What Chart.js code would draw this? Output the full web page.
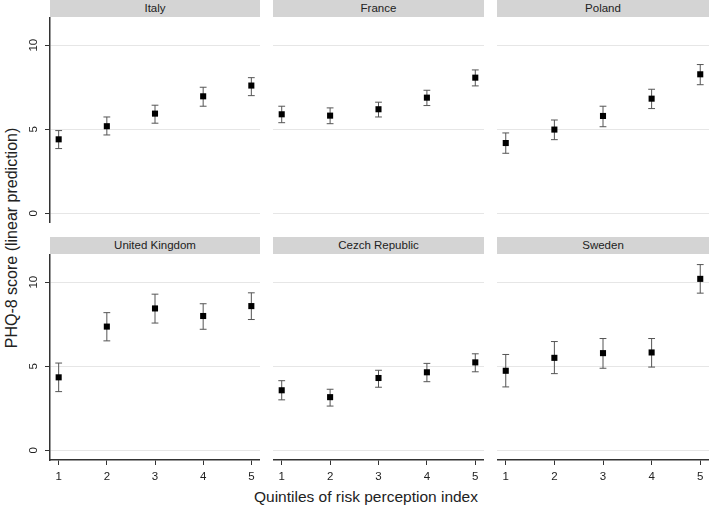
<!DOCTYPE html>
<html>
<head>
<meta charset="utf-8">
<script src="https://cdn.jsdelivr.net/npm/chart.js@4/dist/chart.umd.min.js"></script>
<style>
  body { margin: 0; background: #fff; }
  #wrap { position: relative; width: 709px; height: 507px; font-family: "Liberation Sans", Arial, sans-serif; }
  .panel { position: absolute; }
  .strip { position: absolute; height: 17px; background: #d4d4d4; color: #222; font-size: 11.5px;
           line-height: 17px; text-align: center; }
  .ytitle { position: absolute; left: 12px; top: 238px; transform: translate(-50%, -50%) rotate(-90deg);
            white-space: nowrap; font-size: 16px; color: #222; }
  .xtitle { position: absolute; left: 366px; top: 497px; transform: translate(-50%, -50%);
            white-space: nowrap; font-size: 15.5px; color: #222; }
</style>
</head>
<body>
<div id="wrap">
  <div class="ytitle">PHQ-8 score (linear prediction)</div>
  <div class="xtitle">Quintiles of risk perception index</div>
</div>
<script>
// quintiles 1..5
const quintiles = [1, 2, 3, 4, 5];
const countries = ['Italy', 'France', 'Poland', 'United Kingdom', 'Cezch Republic', 'Sweden'];

// point estimates per country
const italyEst   = [4.40, 5.18, 5.93, 6.96, 7.60];
const franceEst  = [5.89, 5.81, 6.19, 6.88, 8.07];
const polandEst  = [4.18, 4.98, 5.79, 6.82, 8.27];
const ukEst      = [4.34, 7.36, 8.44, 7.99, 8.58];
const czechEst   = [3.57, 3.16, 4.30, 4.64, 5.23];
const swedenEst  = [4.73, 5.50, 5.78, 5.82, 10.20];

// lower / upper bounds of confidence intervals
const italyLo  = [3.85, 4.66, 5.36, 6.37, 7.00];
const italyHi  = [4.92, 5.73, 6.43, 7.50, 8.07];
const franceLo = [5.39, 5.33, 5.73, 6.41, 7.58];
const franceHi = [6.37, 6.27, 6.61, 7.32, 8.53];
const polandLo = [3.57, 4.38, 5.15, 6.23, 7.65];
const polandHi = [4.78, 5.55, 6.37, 7.38, 8.85];
const ukLo     = [3.49, 6.51, 7.57, 7.20, 7.78];
const ukHi     = [5.19, 8.19, 9.29, 8.72, 9.37];
const czechLo  = [3.00, 2.63, 3.75, 4.08, 4.67];
const czechHi  = [4.14, 3.63, 4.76, 5.17, 5.74];
const swedenLo = [3.77, 4.56, 4.88, 4.95, 9.35];
const swedenHi = [5.70, 6.47, 6.65, 6.65, 11.05];

const yTicks = [0, 5, 10];

const series = [
  [italyEst, italyLo, italyHi],
  [franceEst, franceLo, franceHi],
  [polandEst, polandLo, polandHi],
  [ukEst, ukLo, ukHi],
  [czechEst, czechLo, czechHi],
  [swedenEst, swedenLo, swedenHi]
];

const colX = [50, 273, 497];
const colW = [210, 211, 212];
const rowY = [17, 254];
const plotH = 206;
const wrap = document.getElementById('wrap');

function makePanel(i) {
  const col = i % 3, row = Math.floor(i / 3);
  const left = col === 0;
  const bottom = row === 1;
  const yAxisW = left ? 28 : 0;
  const xAxisH = bottom ? 26 : 0;

  const strip = document.createElement('div');
  strip.className = 'strip';
  strip.style.left = colX[col] + 'px';
  strip.style.top = (rowY[row] - 17) + 'px';
  strip.style.width = colW[col] + 'px';
  strip.textContent = countries[i];
  wrap.appendChild(strip);

  const box = document.createElement('div');
  box.className = 'panel';
  box.style.left = (colX[col] - yAxisW) + 'px';
  box.style.top = rowY[row] + 'px';
  box.style.width = (colW[col] + yAxisW) + 'px';
  box.style.height = (plotH + xAxisH) + 'px';
  const cv = document.createElement('canvas');
  box.appendChild(cv);
  wrap.appendChild(box);

  const [est, lo, hi] = series[i];
  const pts = quintiles.map((q, k) => ({x: q, y: est[k]}));
  const caps = [];
  const stems = [];
  quintiles.forEach((q, k) => {
    caps.push({x: q, y: lo[k]}, {x: q, y: hi[k]});
    stems.push({x: q, y: lo[k]}, {x: q, y: hi[k]}, {x: q, y: null});
  });

  new Chart(cv, {
    type: 'scatter',
    data: {
      datasets: [
        { type: 'line', data: stems, borderColor: '#555', borderWidth: 1, pointRadius: 0,
          spanGaps: false, fill: false, order: 3 },
        { data: caps, pointStyle: 'line', pointRadius: 3.4, borderColor: '#555',
          pointBorderWidth: 1, order: 2 },
        { data: pts, pointStyle: 'rect', pointRadius: 4.3, backgroundColor: '#000',
          borderColor: '#000', pointBorderWidth: 0, order: 1 }
      ]
    },
    options: {
      responsive: true,
      maintainAspectRatio: false,
      animation: false,
      layout: { padding: 0, autoPadding: false },
      plugins: { legend: { display: false }, tooltip: { enabled: false } },
      scales: {
        x: {
          type: 'linear', min: 0.82, max: 5.18,
          display: bottom,
          afterBuildTicks: s => { s.ticks = quintiles.map(v => ({value: v})); },
          afterFit: s => { s.height = xAxisH; s.paddingLeft = 0; s.paddingRight = 0; },
          grid: { drawOnChartArea: false, tickLength: 5, tickColor: '#333' },
          border: { display: true, color: '#333', width: 1.5 },
          ticks: { color: '#222', font: { family: 'Liberation Sans', size: 11.5 }, padding: 5,
                   maxRotation: 0 }
        },
        y: {
          min: -0.58, max: 11.68,
          afterBuildTicks: s => { s.ticks = yTicks.map(v => ({value: v})); },
          afterFit: s => { s.width = yAxisW; s.paddingTop = 0; s.paddingBottom = 0; },
          grid: { color: '#e6e6e6', lineWidth: 1, drawTicks: left, tickLength: 5, tickColor: '#333' },
          border: { display: left, color: '#333', width: 1.5 },
          ticks: { display: left, color: '#222', font: { family: 'Liberation Sans', size: 11.5 },
                   minRotation: 90, maxRotation: 90, crossAlign: 'center', padding: 5 }
        }
      }
    }
  });
}

for (let i = 0; i < 6; i++) makePanel(i);
</script>
</body>
</html>
